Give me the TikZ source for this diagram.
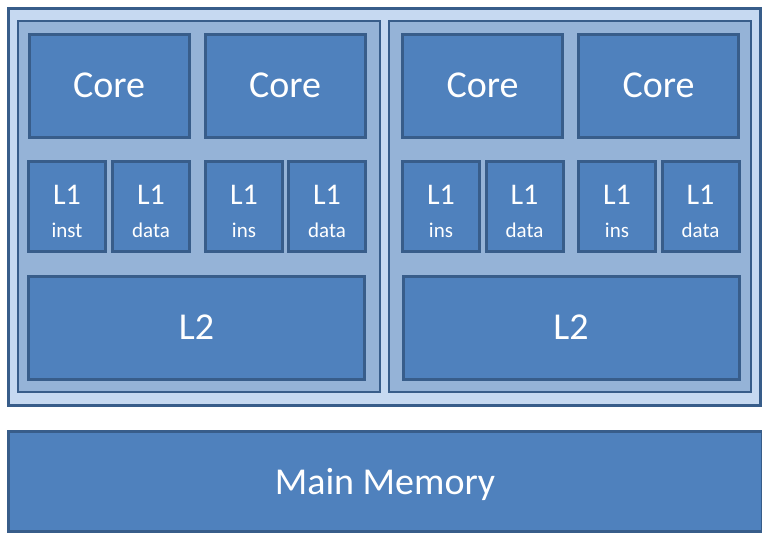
\documentclass[tikz,border=0pt]{standalone}
\usepackage{fontspec}
\setmainfont{Carlito}
\usepackage{xcolor}
\usepackage{tikz}
\usetikzlibrary{positioning}
\definecolor{coreblue}{RGB}{79, 129, 189}
\definecolor{edgeblue}{RGB}{56, 93, 138}
\definecolor{clusterblue}{RGB}{149, 179, 215}
\definecolor{chipblue}{RGB}{198, 217, 241}

\begin{document}
\begin{tikzpicture}[x=1pt, y=-1pt,
    unit/.style={fill=coreblue, draw=edgeblue, line width=3pt, inner sep=0pt, text=white},
    bigtext/.style={font=\fontsize{38}{40}\selectfont, text depth=0pt},
    cachebox/.style={unit, minimum width=77pt, minimum height=90pt, align=center},
    corebox/.style={unit, bigtext, minimum width=160pt, minimum height=103pt},
    cluster/.style={fill=clusterblue, draw=edgeblue, line width=2pt, minimum width=362pt, minimum height=371pt}]
    \useasboundingbox (0,0) rectangle (762,533);

    % chip and the two clusters
    \node[fill=chipblue, draw=edgeblue, line width=3pt, minimum width=752pt, minimum height=397pt] (chip) at (384,206.5) {};
    \node[cluster] (leftcl) at (199,206.5) {};
    \node[cluster] (rightcl) at (569.5,206.5) {};

    % cores
    \node[corebox] (core1) at (109,85.5) {Core};
    \node[corebox] (core2) at (285,85.5) {Core};
    \node[corebox] (core3) at (482.5,85.5) {Core};
    \node[corebox] (core4) at (658.5,85.5) {Core};

    % L1 caches
    \newcommand{\cachetext}[1]{{\fontsize{30}{30}\selectfont\rule{0pt}{30pt}L1}\\[17pt]{\fontsize{21}{22}\selectfont #1}}
    \node[cachebox] (l1a) at (67,206) {\cachetext{inst}};
    \node[cachebox] (l1b) at (151,206) {\cachetext{data}};
    \node[cachebox] (l1c) at (244,206) {\cachetext{ins}};
    \node[cachebox] (l1d) at (327,206) {\cachetext{data}};
    \node[cachebox] (l1e) at (441,206) {\cachetext{ins}};
    \node[cachebox] (l1f) at (524.5,206) {\cachetext{data}};
    \node[cachebox] (l1g) at (617,206) {\cachetext{ins}};
    \node[cachebox] (l1h) at (700.5,206) {\cachetext{data}};

    % L2 caches
    \node[unit, bigtext, minimum width=336pt, minimum height=103pt] (l2left) at (196.5,327.5) {L2};
    \node[unit, bigtext, minimum width=336pt, minimum height=103pt] (l2right) at (571,327.5) {L2};

    % memory
    \node[unit, bigtext, minimum width=754pt, minimum height=100pt] (mem) at (385,481) {Main Memory};
\end{tikzpicture}
\end{document}
